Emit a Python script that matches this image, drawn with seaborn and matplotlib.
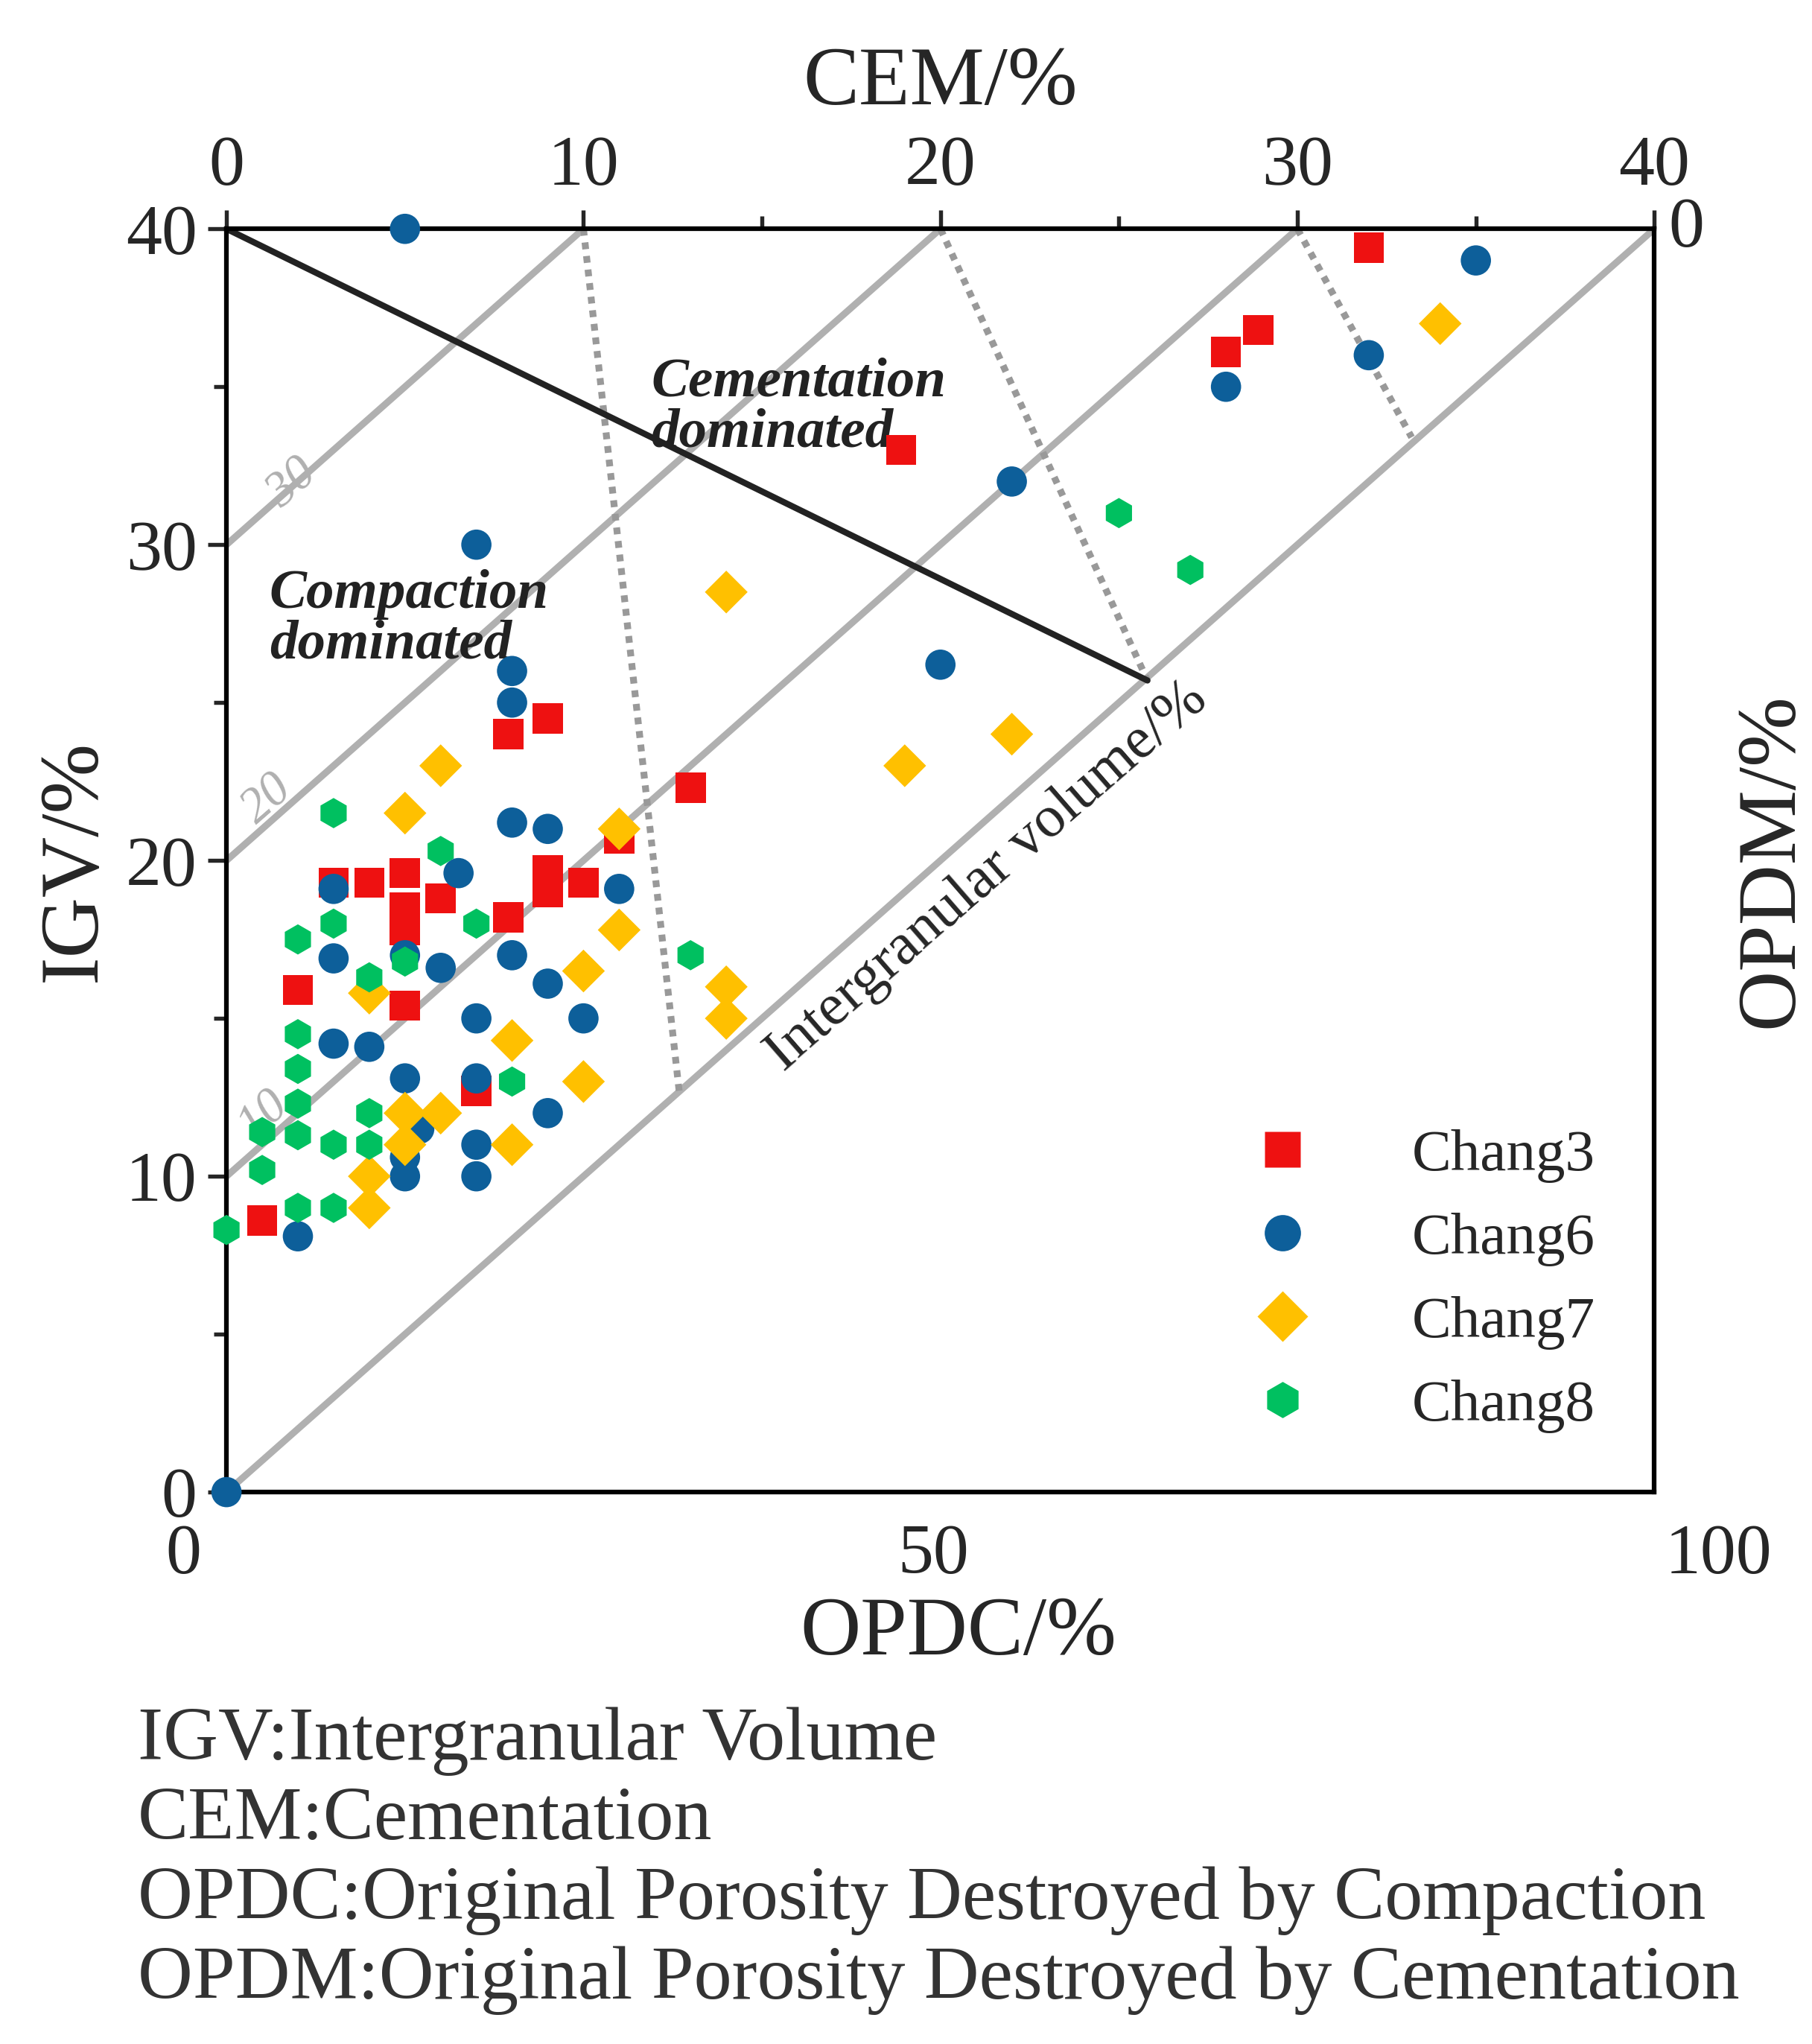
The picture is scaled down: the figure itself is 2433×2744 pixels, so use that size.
#!/usr/bin/env python3

import pandas as pd
import matplotlib.pyplot as plt
import seaborn as sns


def build_data():
    """Monta a tabela de pontos CEM x IGV para cada membro."""
    points = {
        'Chang3': [(18.9, 33.0), (28.0, 36.1), (28.9, 36.8), (32.0, 39.4), (13.0, 22.3),
                   (11.0, 20.7), (9.0, 24.5), (7.9, 24.0), (3, 19.3), (4, 19.3), (5, 19.6),
                   (5, 18.5), (5, 17.8), (5, 15.4), (2.0, 15.9), (6.0, 18.8), (7.9, 18.2),
                   (9, 19.7), (9, 19.0), (10, 19.3), (7, 12.7), (1, 8.6)],
        'Chang6': [(5, 40), (0, 0), (35, 39), (32, 36), (28, 35), (22, 32), (20, 26.2),
                   (7, 30), (8, 26), (8, 25), (8, 21.2), (9, 21), (6.5, 19.6), (11, 19.1),
                   (3, 19.1), (3, 16.9), (6, 16.6), (8, 17), (9, 16.1), (10, 15), (7, 15),
                   (3, 14.2), (4, 14.1), (5, 13.1), (7, 13.1), (5, 17), (5.4, 11.5),
                   (5, 10.6), (5, 10), (7, 11), (7, 10), (9, 12), (2, 8.1)],
        'Chang7': [(34, 37), (14, 28.5), (19, 23), (22, 24), (6, 23), (5, 21.5), (11, 21),
                   (11, 17.8), (10, 16.5), (14, 16), (14, 15), (10, 13), (8, 14.3), (4, 15.8),
                   (5, 12), (6, 12), (5, 11), (8, 11), (4, 10), (4, 9)],
        'Chang8': [(25, 31), (27, 29.2), (13, 17), (6, 20.3), (3, 21.5), (2, 17.5), (3, 18),
                   (7, 18), (4, 16.3), (5, 16.8), (2, 14.5), (2, 13.4), (2, 12.3), (2, 11.3),
                   (1, 11.4), (1, 10.2), (3, 11), (4, 12), (4, 11), (8, 13), (2, 9), (3, 9),
                   (0, 8.3)],
    }
    rows = []
    for member, pts in points.items():
        for cem, igv in pts:
            rows.append({'CEM': cem, 'IGV': igv, 'member': member})
    return pd.DataFrame(rows)


def draw_guides(ax):
    """Desenha as linhas de referência do diagrama de Lundegard."""
    for c in [0, 10, 20, 30]:
        ax.plot([0, 40 - c], [c, 40], color='#b0b0b0', lw=2.2, zorder=1)
    # linhas pontilhadas
    for (x0, y0), (x1, y1) in [((10, 40), (12.7, 12.5)), ((20, 40), (25.8, 25.7)),
                               ((30, 40), (33.2, 33.4))]:
        ax.plot([x0, x1], [y0, y1], color='#999999', lw=2.2, ls=(0, (1, 1)), zorder=1)
    ax.plot([0, 25.8], [40, 25.7], color='#222222', lw=2.0, zorder=2)

    for x, y, t in [(0.9, 31.2, '30'), (0.2, 21.2, '20'), (0.1, 11.2, '10')]:
        ax.text(x, y, t, color='#b0b0b0', fontsize=16, rotation=41, style='italic')
    ax.text(11.9, 33.1, 'Cementation\ndominated', fontsize=18, weight='bold', style='italic',
            linespacing=1.0, color='#222222')
    ax.text(1.2, 26.4, 'Compaction\ndominated', fontsize=18, weight='bold', style='italic',
            linespacing=1.0, color='#222222')
    ax.text(21.3, 19.5, 'Intergranular volume/%', fontsize=19, rotation=41,
            ha='center', va='center', rotation_mode='anchor')


def main():
    sns.set_theme(style='ticks')
    plt.rcParams['font.family'] = ['Liberation Serif', 'DejaVu Serif']

    df = build_data()
    fig = plt.figure(figsize=(8.11, 9.147), dpi=300)
    ax = fig.add_axes([0.125, 0.27, 0.788, 0.618])

    draw_guides(ax)
    sns.scatterplot(data=df, x='CEM', y='IGV', hue='member', style='member',
                    palette={'Chang3': '#ee1111', 'Chang6': '#0d5f9a',
                             'Chang7': '#ffc000', 'Chang8': '#00c060'},
                    markers={'Chang3': 's', 'Chang6': 'o', 'Chang7': 'D', 'Chang8': 'h'},
                    s=95, edgecolor='none', clip_on=False, zorder=3, ax=ax)

    ax.set_xlim(0, 40)
    ax.set_ylim(0, 40)
    for s in ax.spines.values():
        s.set_linewidth(1.5)
        s.set_color('black')
    ax.set_yticks(range(0, 41, 10))
    ax.set_yticks(range(0, 41, 5), minor=True)
    ax.tick_params(axis='y', labelsize=23, length=6, width=1.3, which='major')
    ax.tick_params(axis='y', length=4, width=1.3, which='minor')
    ax.set_ylabel('IGV/%', fontsize=27)
    ax.xaxis.tick_top()
    ax.xaxis.set_label_position('top')
    ax.set_xticks(range(0, 41, 10))
    ax.set_xticks(range(0, 41, 5), minor=True)
    ax.tick_params(axis='x', labelsize=23, length=6, width=1.3, which='major')
    ax.tick_params(axis='x', length=4, width=1.3, which='minor')
    ax.set_xlabel('CEM/%', fontsize=27, labelpad=10)

    # eixos secundários (somente texto)
    ax.text(-1.2, -1.0, '0', fontsize=23, ha='center', va='top')
    ax.text(19.8, -1.0, '50', fontsize=23, ha='center', va='top')
    ax.text(41.8, -1.0, '100', fontsize=23, ha='center', va='top')
    ax.text(20.5, -3.3, 'OPDC/%', fontsize=27, ha='center', va='top')
    ax.text(1.01, 1.0, '0', fontsize=23, ha='left', va='center', transform=ax.transAxes)
    ax.text(43.3, 20, 'OPDM/%', fontsize=27, rotation=90, ha='center', va='center')

    leg = ax.legend(loc='lower right', frameon=False, fontsize=19, markerscale=1.2,
                    handletextpad=1.2, borderaxespad=0.6)
    leg.set_title(None)

    footer = ['IGV:Intergranular Volume', 'CEM:Cementation',
              'OPDC:Original Porosity Destroyed by Compaction',
              'OPDM:Original Porosity Destroyed by Cementation']
    for i, line in enumerate(footer):
        fig.text(0.076, 0.148 - i * 0.039, line, fontsize=24.5, color='#333333', va='center')

    fig.savefig('out.png', dpi=300)
    plt.close(fig)


if __name__ == '__main__':
    main()
